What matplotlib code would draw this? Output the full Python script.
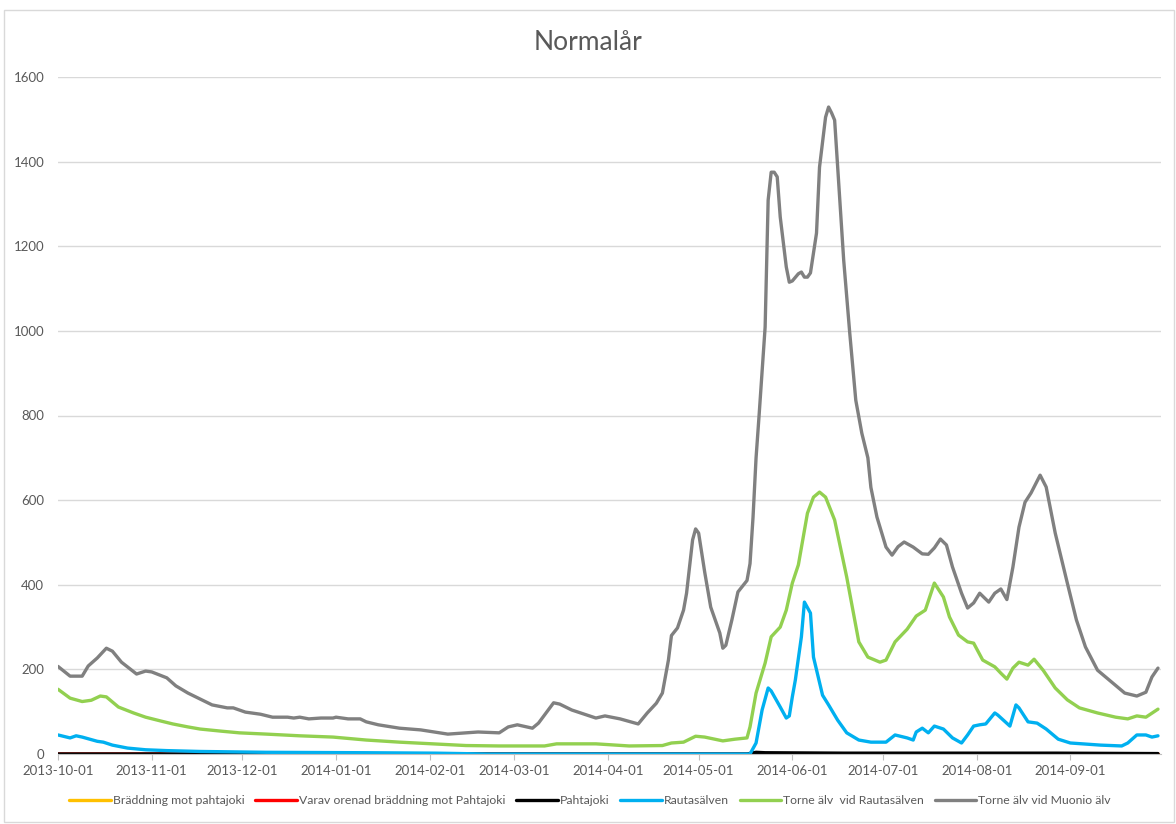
import numpy as np
import pandas as pd
import matplotlib
matplotlib.use("Agg")
import matplotlib.pyplot as plt
import matplotlib.dates as mdates
from matplotlib.patches import Rectangle

plt.rcParams["font.family"] = ["Lato", "DejaVu Sans"]

# ----------------------------
# DATA (day offset from 2013-10-01, value)
# ----------------------------
start_date = pd.Timestamp("2013-10-01")

muonio_days = [0, 4, 8, 10, 13, 16, 18, 21, 26, 29, 31, 36, 39, 43, 47, 51, 56, 58, 62, 67,
               71, 76, 78, 80, 83, 87, 91, 92, 96, 100, 102, 106, 113, 120, 129, 139, 146, 149,
               152, 157, 159, 164, 166, 170, 178, 181, 186, 192, 195, 198, 200, 202, 203, 205,
               207, 208, 210, 211, 212, 214, 216, 219, 220, 221, 223, 225, 226, 228, 229, 230,
               231, 232, 234, 235, 236, 237, 238, 239, 241, 242, 243, 245, 246, 247, 248, 249,
               251, 252, 254, 255, 256, 257, 258, 260, 262, 264, 266, 268, 269, 271, 274, 276,
               278, 280, 283, 286, 288, 290, 292, 294, 296, 299, 301, 303, 305, 308, 310, 312,
               314, 316, 318, 320, 322, 325, 327, 330, 334, 337, 340, 344, 349, 353, 357, 360,
               362, 364]
muonio_vals = [207, 184, 184, 208, 227, 250, 243, 217, 189, 196, 194, 180, 161, 144, 130, 116, 109, 109, 99, 94,
               87, 87, 85, 87, 83, 85, 85, 87, 83, 83, 76, 69, 61, 57, 47, 52, 50, 64,
               69, 61, 73, 121, 118, 104, 85, 90, 83, 71, 97, 120, 144, 222, 280, 298,
               340, 380, 506, 532, 522, 430, 347, 286, 250, 257, 317, 383, 392, 410, 450, 560,
               700, 800, 1009, 1309, 1375, 1375, 1364, 1269, 1151, 1115, 1118, 1135, 1139, 1127, 1127, 1137,
               1231, 1387, 1505, 1529, 1515, 1498, 1387, 1167, 995, 836, 758, 700, 630, 560, 489, 470,
               490, 501, 489, 473, 472, 487, 508, 494, 442, 380, 345, 357, 380, 359, 380, 390,
               365, 442, 536, 595, 617, 659, 631, 522, 404, 317, 253, 198, 168, 144, 137, 146,
               182, 203]

torne_days = [0, 4, 8, 11, 14, 16, 20, 25, 29, 34, 38, 43, 47, 54, 60, 69, 80, 91, 102, 113,
              124, 135, 146, 161, 165, 178, 189, 200, 203, 207, 211, 214, 220, 224, 228, 229,
              231, 234, 236, 239, 241, 243, 245, 248, 250, 252, 254, 257, 261, 265, 268, 272,
              274, 277, 281, 284, 287, 290, 293, 295, 298, 301, 303, 306, 310, 312, 314, 316,
              318, 321, 323, 326, 330, 334, 338, 344, 350, 354, 357, 360, 364]
torne_vals = [153, 132, 124, 127, 137, 135, 111, 97, 87, 78, 71, 64, 59, 54, 50, 47, 43, 40, 33, 28,
              24, 20, 19, 19, 24, 24, 19, 20, 26, 28, 42, 40, 31, 35, 38, 64,
              144, 215, 277, 300, 340, 404, 447, 569, 607, 619, 607, 553, 418, 265, 229, 217,
              222, 265, 295, 326, 340, 404, 371, 324, 281, 265, 262, 222, 206, 191, 177, 203,
              217, 210, 224, 198, 156, 128, 109, 97, 87, 83, 90, 87, 106]

rauta_days = [0, 4, 6, 8, 13, 15, 18, 23, 29, 36, 47, 69, 102, 125, 142, 229, 231, 233, 235, 236,
              239, 241, 242, 243, 244, 246, 247, 249, 250, 253, 255, 258, 261, 265, 269, 274,
              277, 281, 283, 284, 286, 288, 290, 293, 296, 299, 301, 303, 305, 307, 310, 311,
              315, 317, 318, 321, 324, 327, 331, 335, 345, 352, 354, 357, 360, 362, 364]
rauta_vals = [45, 38, 43, 40, 30, 28, 21, 14, 10, 8, 6, 4, 3, 2, 0, 0, 26, 104, 156, 149,
              111, 85, 90, 135, 175, 277, 359, 333, 229, 139, 116, 80, 50, 33, 28, 28,
              45, 38, 33, 52, 61, 50, 66, 59, 38, 26, 45, 66, 69, 71, 97, 92,
              66, 116, 109, 76, 73, 59, 35, 26, 21, 19, 26, 45, 45, 40, 43]

pahta_days = [0, 140, 228, 231, 234, 260, 290, 300, 330, 364]
pahta_vals = [0, 0, 0, 4, 3, 2, 2, 2, 2, 1]

orenad_days = [0, 229, 231, 233, 364]
orenad_vals = [0, 0, 3, 0, 0]

braddning_days = [0, 364]
braddning_vals = [0, 0]

tick_months = pd.date_range("2013-10-01", "2014-09-01", freq="MS")


def to_dates(days):
    return start_date + pd.to_timedelta(days, unit="D")


series = [
    ("Bräddning mot pahtajoki", braddning_days, braddning_vals, "#FFC000"),
    ("Varav orenad bräddning mot Pahtajoki", orenad_days, orenad_vals, "#FF0000"),
    ("Pahtajoki", pahta_days, pahta_vals, "#000000"),
    ("Rautasälven", rauta_days, rauta_vals, "#00B0F0"),
    ("Torne älv  vid Rautasälven", torne_days, torne_vals, "#92D050"),
    ("Torne älv vid Muonio älv", muonio_days, muonio_vals, "#808080"),
]

# ----------------------------
# CHART
# ----------------------------
fig = plt.figure(figsize=(11.76, 8.24), dpi=100)
ax = fig.add_axes([58 / 1176, 1 - 754 / 824, (1161 - 58) / 1176, (754 - 77) / 824])

for name, days, vals, color in series:
    ax.plot(to_dates(days), vals, color=color, linewidth=2.4, label=name,
            solid_joinstyle="round", solid_capstyle="round")

ax.set_ylim(0, 1600)
ax.set_yticks(np.arange(0, 1601, 200))
ax.set_xlim(start_date, start_date + pd.Timedelta(days=365))
ax.set_xticks(tick_months)
ax.xaxis.set_major_formatter(mdates.DateFormatter("%Y-%m-%d"))

ax.grid(axis="y", color="#d9d9d9", linewidth=1)
ax.set_axisbelow(True)
for side in ["left", "right", "top"]:
    ax.spines[side].set_visible(False)
ax.spines["bottom"].set_color("#bfbfbf")

ax.tick_params(axis="y", length=0, pad=10, labelsize=9.5, labelcolor="#595959")
ax.tick_params(axis="x", length=4, color="#bfbfbf", pad=4, labelsize=9.5, labelcolor="#595959")

fig.text(0.5, 1 - 42 / 824, "Normalår", ha="center", va="center",
         fontsize=19, color="#595959")

ax.legend(loc="center", bbox_to_anchor=((590 - 58) / (1161 - 58), (754 - 801) / (754 - 77)), ncol=6,
          frameon=False, fontsize=8.8, handlelength=3.4, handletextpad=0.15,
          columnspacing=0.9, labelcolor="#595959")

fig.patches.append(Rectangle((4 / 1176, 2 / 824), 1170 / 1176, 812 / 824,
                             transform=fig.transFigure, fill=False,
                             edgecolor="#d9d9d9", linewidth=1))

fig.savefig("out.png", dpi=100)
